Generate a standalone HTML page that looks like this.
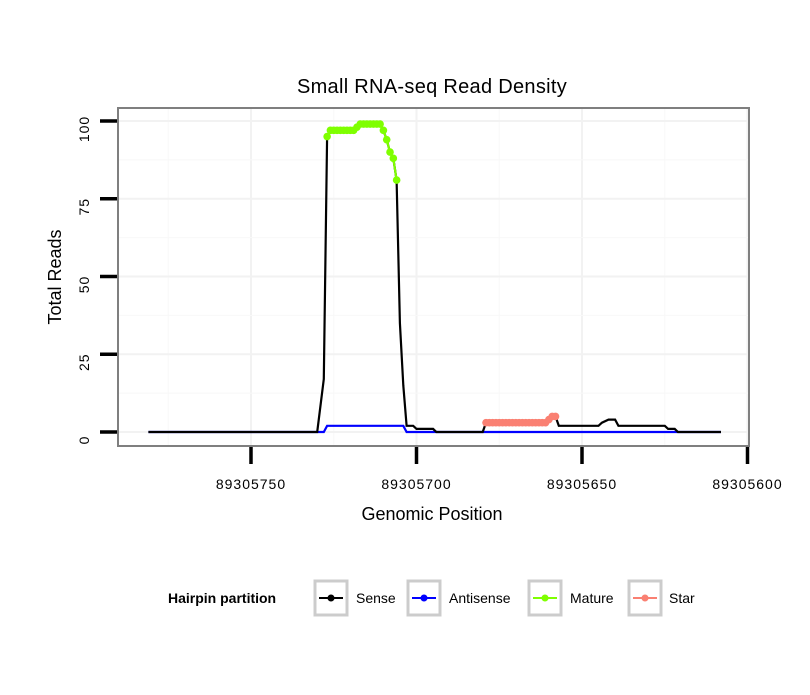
<!DOCTYPE html>
<html><head><meta charset="utf-8"><style>
body{margin:0;background:#fff;font-family:"Liberation Sans",sans-serif}
svg text{font-family:"Liberation Sans",sans-serif}
</style></head><body>
<svg id="chart" width="810" height="690">
<text x="432" y="93" font-size="20" text-anchor="middle" letter-spacing="0.3">Small RNA-seq Read Density</text>
<g id="grid"></g>
<rect x="118" y="108" width="631" height="338" fill="none" stroke="#7f7f7f" stroke-width="2"/>
<g id="axes"></g>
<g id="marks"></g>
<text x="432" y="520" font-size="18" text-anchor="middle">Genomic Position</text>
<text transform="translate(61,277) rotate(-90)" font-size="18" text-anchor="middle">Total Reads</text>
<g>
<text x="168" y="603" font-size="14" font-weight="bold">Hairpin partition</text>
<g><rect x="315" y="581" width="32" height="34" fill="#fff" stroke="#ccc" stroke-width="3"/><line x1="319" y1="598" x2="343" y2="598" stroke="#000" stroke-width="2"/><circle cx="331" cy="598" r="3.5" fill="#000"/><text x="356" y="603" font-size="14">Sense</text></g>
<g><rect x="408" y="581" width="32" height="34" fill="#fff" stroke="#ccc" stroke-width="3"/><line x1="412" y1="598" x2="436" y2="598" stroke="#00f" stroke-width="2"/><circle cx="424" cy="598" r="3.5" fill="#00f"/><text x="449" y="603" font-size="14">Antisense</text></g>
<g><rect x="529" y="581" width="32" height="34" fill="#fff" stroke="#ccc" stroke-width="3"/><line x1="533" y1="598" x2="557" y2="598" stroke="#7fff00" stroke-width="2"/><circle cx="545" cy="598" r="3.5" fill="#7fff00"/><text x="570" y="603" font-size="14">Mature</text></g>
<g><rect x="629" y="581" width="32" height="34" fill="#fff" stroke="#ccc" stroke-width="3"/><line x1="633" y1="598" x2="657" y2="598" stroke="#fa8072" stroke-width="2"/><circle cx="645" cy="598" r="3.5" fill="#fa8072"/><text x="669" y="603" font-size="14">Star</text></g>
</g>
</svg>
<script>
const xTicks=[89305750,89305700,89305650,89305600];
const yTicks=[0,25,50,75,100];
const sensePos=[89305781,89305730,89305728,89305727,89305726,89305719,89305718,89305717,89305711,89305710,89305709,89305708,89305707,89305706,89305705,89305704,89305703,89305701,89305700,89305695,89305694,89305680,89305679,89305661,89305660,89305659,89305658,89305657,89305645,89305644,89305642,89305640,89305639,89305625,89305624,89305622,89305621,89305608];
const senseVal=[0,0,17,95,97,97,98,99,99,97,94,90,88,81,35,15,2,2,1,1,0,0,3,3,4,5,5,2,2,3,4,4,2,2,1,1,0,0];
const antiPos=[89305781,89305728,89305727,89305704,89305703,89305608];
const antiVal=[0,0,2,2,0,0];
const maturePos=[];for(let p=89305727;p>=89305706;p--)maturePos.push(p);
const matureVal=[95,97,97,97,97,97,97,97,97,98,99,99,99,99,99,99,99,97,94,90,88,81];
const starPos=[];for(let p=89305679;p>=89305658;p--)starPos.push(p);
const starVal=[3,3,3,3,3,3,3,3,3,3,3,3,3,3,3,3,3,3,3,4,5,5];

const X=p=>251+(89305750-p)*3.31;
const Y=v=>432-v*3.11;
const NS='http://www.w3.org/2000/svg';
function mk(parent,tag,attrs){const e=document.createElementNS(NS,tag);for(const k in attrs)e.setAttribute(k,attrs[k]);parent.appendChild(e);return e;}
const grid=document.getElementById('grid'),axes=document.getElementById('axes'),marks=document.getElementById('marks');
for(let i=0;i<xTicks.length;i++){
  const g=mk(grid,'line',{x1:X(xTicks[i]),x2:X(xTicks[i]),y1:108,y2:446,stroke:'#f2f2f2','stroke-width':2});
  
  
  const m=mk(grid,'line',{x1:X(xTicks[i]+25),x2:X(xTicks[i]+25),y1:108,y2:446,stroke:'#f8f8f8','stroke-width':1});
  
  
}
for(let i=0;i<yTicks.length;i++){
  const g=mk(grid,'line',{x1:118,x2:749,y1:Y(yTicks[i]),y2:Y(yTicks[i]),stroke:'#f2f2f2','stroke-width':2});
  
  
  if(i<yTicks.length-1){const m=mk(grid,'line',{x1:118,x2:749,y1:Y(yTicks[i]+12.5),y2:Y(yTicks[i]+12.5),stroke:'#f8f8f8','stroke-width':1});
  
  }
}
xTicks.forEach(t=>{
  const l=mk(axes,'line',{x1:X(t),x2:X(t),y1:447,y2:464,stroke:'#000','stroke-width':3.5});
  
  
  const tx=mk(axes,'text',{x:X(t),y:489,'font-size':14,'letter-spacing':1,'text-anchor':'middle'});tx.textContent=t;
  
  
});
yTicks.forEach(t=>{
  const l=mk(axes,'line',{x1:100,x2:117,y1:Y(t),y2:Y(t),stroke:'#000','stroke-width':3.5});
  
  
  const tx=mk(axes,'text',{transform:`translate(89,${Y(t)+8}) rotate(-90)`,'font-size':14,'letter-spacing':1,'text-anchor':'middle'});tx.textContent=t;
  
  
});
function line(pos,val,color,name){
  const d=pos.map((p,i)=>(i?'L':'M')+X(p).toFixed(1)+','+Y(val[i]).toFixed(1)).join('');
  const e=mk(marks,'path',{d:d,fill:'none',stroke:color,'stroke-width':2.2});
  
  
}
function dots(pos,val,color,name){
  line(pos,val,color,name+'-line');
  pos.forEach((p,i)=>{const c=mk(marks,'circle',{cx:X(p),cy:Y(val[i]),r:3.8,fill:color});
  
  });
}
line(antiPos,antiVal,'#0000ff','antisense-line');
line(sensePos,senseVal,'#000000','sense-line');
dots(maturePos,matureVal,'#7fff00','mature');
dots(starPos,starVal,'#fa8072','star');
</script>
</body></html>
